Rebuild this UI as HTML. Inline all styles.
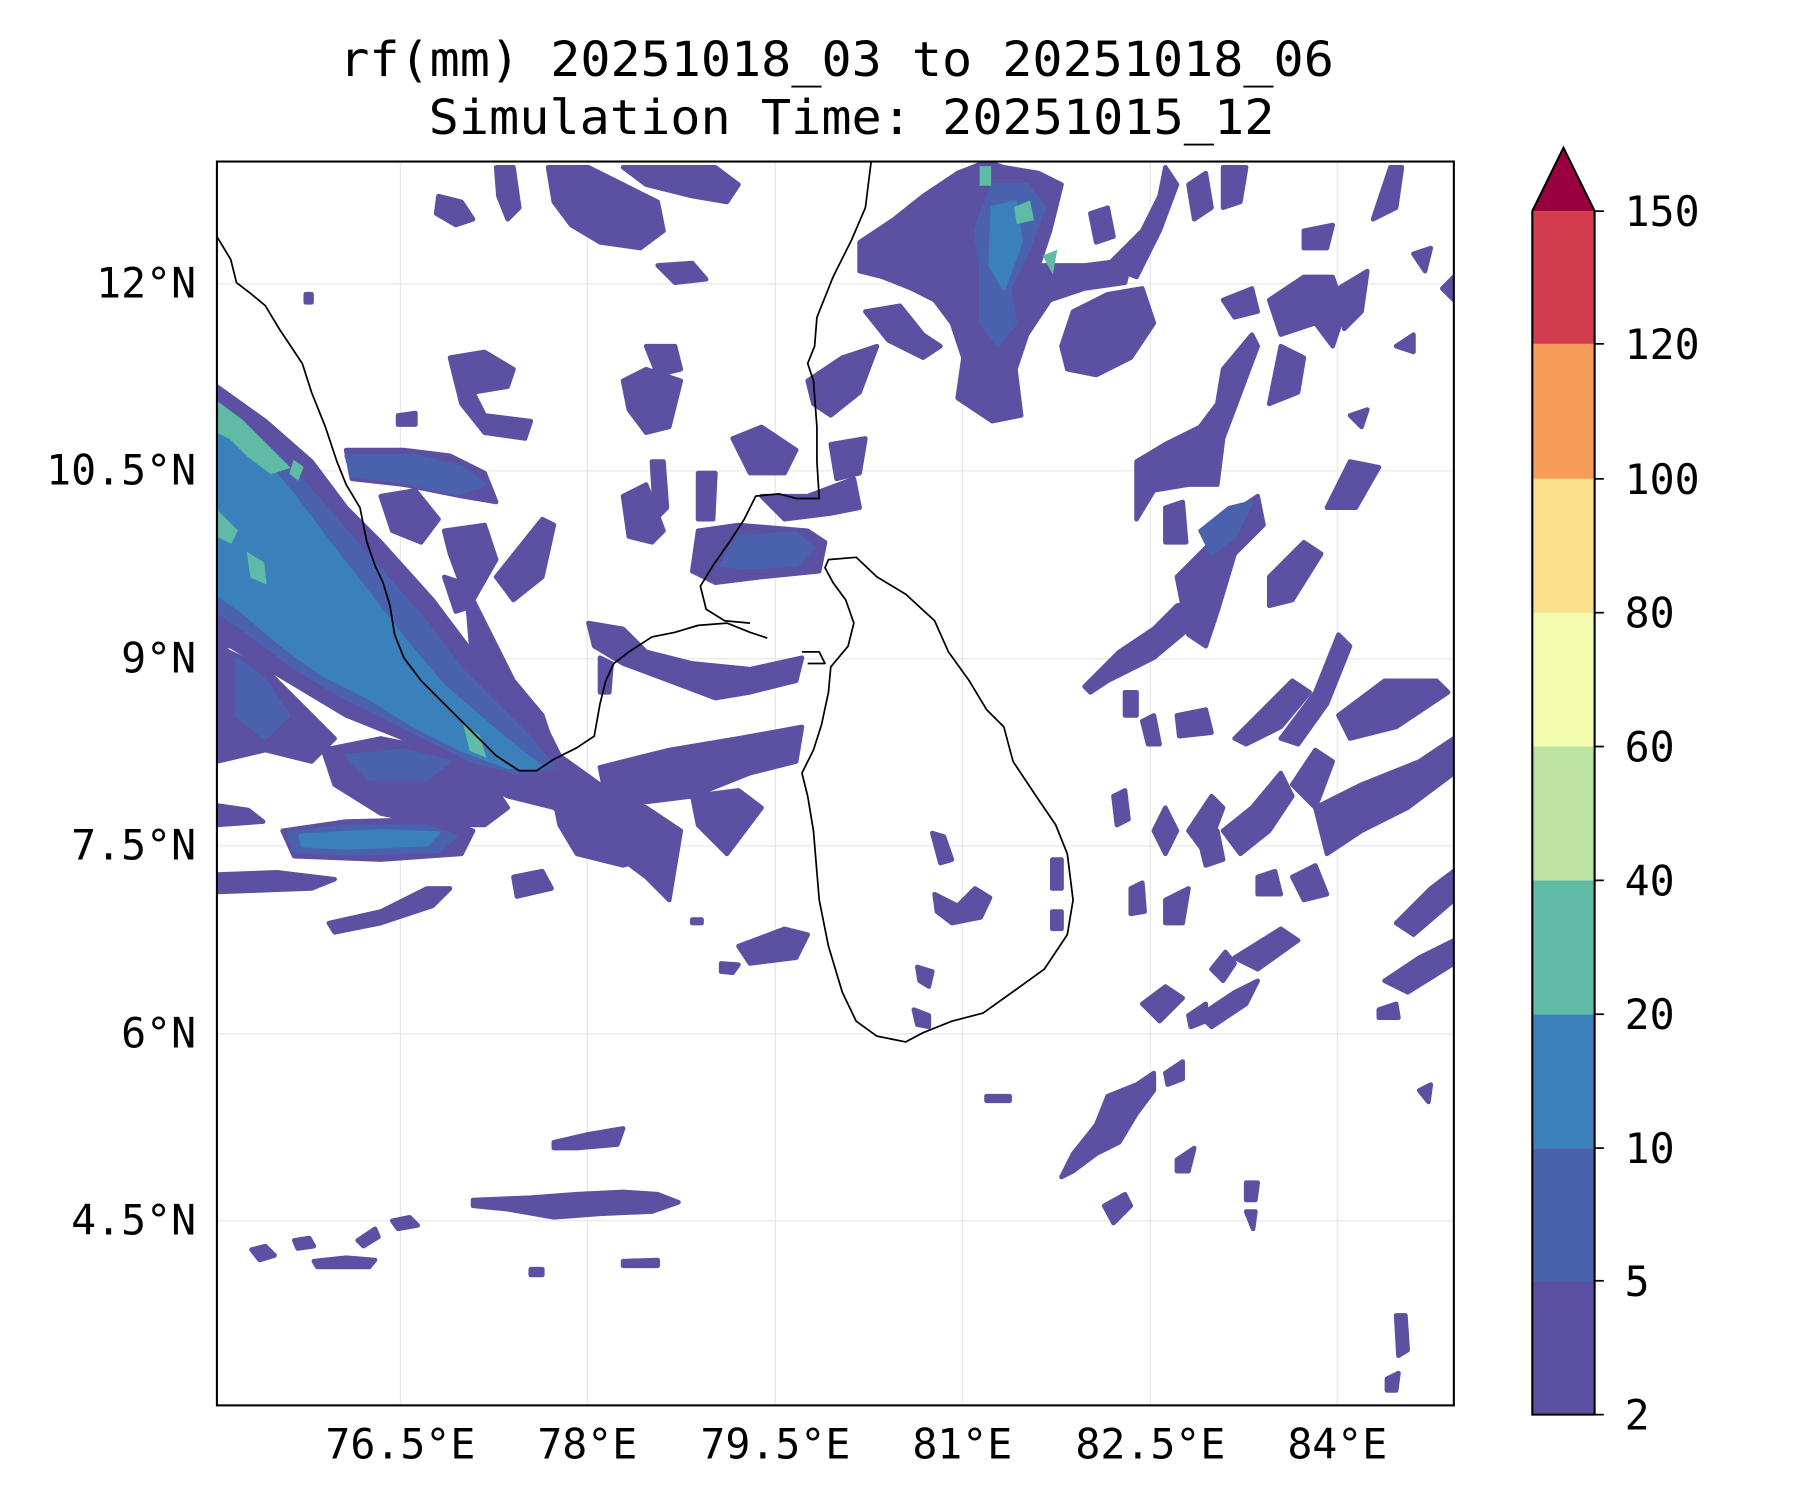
<!DOCTYPE html>
<html><head><meta charset="utf-8"><style>
html,body{margin:0;padding:0;background:#fff;}
svg{display:block}
text{font-family:"DejaVu Sans Mono","Liberation Mono",monospace;fill:#000}
</style></head><body>
<svg width="1800" height="1500" viewBox="0 0 1560 1300" preserveAspectRatio="none" xmlns="http://www.w3.org/2000/svg">
<rect width="1560" height="1300" fill="#fff"/>
<text x="725" y="66" font-size="42" text-anchor="middle" textLength="862" lengthAdjust="spacingAndGlyphs">rf(mm) 20251018_03 to 20251018_06</text>
<text x="738" y="116" font-size="42" text-anchor="middle" textLength="733" lengthAdjust="spacingAndGlyphs">Simulation Time: 20251015_12</text>
<defs><clipPath id="c"><rect x="188" y="140" width="1072" height="1078"/></clipPath></defs>
<g clip-path="url(#c)">
<g stroke="#e6e6e6" stroke-width="1">
<line x1="347" y1="140" x2="347" y2="1218"/><line x1="509" y1="140" x2="509" y2="1218"/><line x1="672" y1="140" x2="672" y2="1218"/><line x1="834" y1="140" x2="834" y2="1218"/><line x1="997" y1="140" x2="997" y2="1218"/><line x1="1159" y1="140" x2="1159" y2="1218"/>
<line x1="188" y1="246" x2="1260" y2="246"/><line x1="188" y1="408" x2="1260" y2="408"/><line x1="188" y1="571" x2="1260" y2="571"/><line x1="188" y1="733" x2="1260" y2="733"/><line x1="188" y1="896" x2="1260" y2="896"/><line x1="188" y1="1058" x2="1260" y2="1058"/>
</g>
<g fill="#5b50a1" stroke="#5b50a1" stroke-width="4" stroke-linejoin="round">
<path d="M188,335 L230,365 L270,400 L300,440 L330,470 L375,520 L405,560 L440,595 L470,625 L485,655 L520,680 L560,700 L590,720 L580,780 L560,760 L520,730 L480,700 L440,690 L400,670 L350,640 L300,620 L250,590 L200,560 L188,560 Z"/>
<path d="M188,560 L230,580 L260,610 L290,640 L270,660 L230,650 L188,660 Z"/>
<path d="M280,650 L330,640 L380,650 L420,670 L440,700 L420,715 L380,715 L330,705 L290,680 Z"/>
<path d="M245,720 L300,712 L380,710 L410,720 L400,740 L330,745 L255,742 Z"/>
<path d="M188,698 L215,702 L228,712 L188,715 Z"/>
<path d="M188,758 L240,756 L290,762 L270,770 L188,773 Z"/>
<path d="M285,800 L330,790 L370,770 L390,770 L375,785 L330,800 L290,808 Z"/>
<path d="M445,760 L470,755 L478,770 L448,777 Z"/>
<path d="M300,390 L350,390 L390,395 L420,410 L430,435 L400,430 L350,420 L305,415 Z"/>
<path d="M330,430 L360,425 L380,450 L365,470 L340,460 Z"/>
<path d="M385,460 L420,455 L430,485 L410,520 L430,560 L445,590 L470,620 L480,650 L455,640 L430,605 L410,580 L405,520 L390,480 Z"/>
<path d="M430,500 L470,450 L480,455 L470,500 L445,520 Z"/>
<path d="M385,500 L400,505 L410,525 L395,530 Z"/>
<path d="M480,690 L520,690 L560,710 L575,740 L540,750 L500,740 L485,715 Z"/>
<path d="M510,540 L540,545 L560,565 L600,575 L650,580 L695,570 L690,590 L650,600 L620,605 L580,590 L540,575 L515,560 Z"/>
<path d="M520,665 L580,650 L640,640 L695,630 L690,660 L650,670 L600,690 L560,695 L525,690 Z"/>
<path d="M600,690 L640,685 L660,700 L630,740 L605,715 Z"/>
<path d="M520,570 L530,575 L528,600 L520,600 Z"/>
<path d="M640,820 L680,805 L700,810 L690,830 L650,835 Z"/>
<path d="M625,835 L640,836 L635,843 L625,842 Z"/>
<path d="M605,460 L640,455 L700,460 L715,470 L710,495 L660,500 L620,505 L600,495 Z"/>
<path d="M660,430 L700,430 L740,415 L745,440 L720,445 L680,450 Z"/>
<path d="M540,430 L560,420 L575,460 L565,470 L545,465 Z"/>
<path d="M565,400 L575,400 L578,440 L568,450 Z"/>
<path d="M605,410 L620,410 L618,450 L605,450 Z"/>
<path d="M635,380 L660,370 L690,390 L680,410 L650,410 Z"/>
<path d="M540,330 L560,320 L590,330 L580,370 L560,375 L545,355 Z"/>
<path d="M560,300 L585,300 L590,320 L570,325 Z"/>
<path d="M390,310 L420,305 L445,320 L440,335 L410,340 L420,360 L460,365 L455,380 L420,375 L400,350 Z"/>
<path d="M380,170 L400,175 L410,190 L395,195 L378,185 Z"/>
<path d="M430,145 L445,145 L450,180 L440,190 L432,170 Z"/>
<path d="M475,145 L510,145 L540,160 L570,175 L575,200 L555,215 L520,210 L495,195 L480,175 Z"/>
<path d="M540,145 L620,145 L640,160 L630,175 L600,170 L560,160 Z"/>
<path d="M570,230 L600,228 L612,242 L585,245 Z"/>
<path d="M700,330 L730,310 L760,300 L745,340 L720,360 L705,350 Z"/>
<path d="M720,385 L750,380 L745,410 L725,415 Z"/>
<path d="M750,270 L780,265 L800,290 L815,300 L800,310 L770,295 Z"/>
<path d="M745,210 L775,190 L800,170 L830,150 L855,140 L870,145 L900,150 L920,160 L910,200 L900,230 L940,230 L980,225 L975,245 L940,250 L910,260 L890,290 L880,320 L885,360 L860,365 L830,345 L835,310 L825,280 L810,260 L790,250 L765,240 L745,235 Z"/>
<path d="M930,270 L960,255 L990,250 L1000,280 L980,310 L950,325 L925,320 L920,300 Z"/>
<path d="M945,185 L960,180 L965,205 L950,210 Z"/>
<path d="M960,230 L990,200 L1005,170 L1010,145 L1020,160 L1005,200 L985,240 Z"/>
<path d="M1030,160 L1045,150 L1050,180 L1035,190 Z"/>
<path d="M1060,145 L1080,145 L1075,175 L1060,180 Z"/>
<path d="M985,400 L1010,385 L1040,370 L1055,350 L1060,320 L1085,290 L1090,300 L1075,340 L1060,380 L1055,420 L1030,420 L1000,425 L985,450 Z"/>
<path d="M940,595 L970,565 L1000,545 L1020,525 L1040,520 L1030,545 L1000,570 L960,590 L945,600 Z"/>
<path d="M1020,500 L1050,470 L1075,440 L1090,430 L1095,455 L1070,480 L1055,530 L1045,560 L1030,550 Z"/>
<path d="M1010,440 L1025,435 L1028,470 L1010,470 Z"/>
<path d="M1100,500 L1130,470 L1145,480 L1120,520 L1100,525 Z"/>
<path d="M1150,440 L1170,400 L1195,405 L1175,440 Z"/>
<path d="M1170,360 L1185,355 L1180,370 Z"/>
<path d="M1060,260 L1085,250 L1090,270 L1070,275 Z"/>
<path d="M1100,260 L1130,240 L1155,240 L1165,270 L1155,300 L1140,280 L1110,290 Z"/>
<path d="M1110,300 L1130,310 L1125,340 L1100,350 Z"/>
<path d="M1160,250 L1185,235 L1180,270 L1165,285 Z"/>
<path d="M1190,190 L1205,145 L1215,145 L1210,180 Z"/>
<path d="M1130,200 L1155,195 L1150,215 L1130,215 Z"/>
<path d="M1210,300 L1225,290 L1225,305 Z"/>
<path d="M1225,220 L1240,215 L1235,235 Z"/>
<path d="M1250,250 L1260,240 L1260,260 Z"/>
<path d="M1020,620 L1045,615 L1050,635 L1022,638 Z"/>
<path d="M1070,640 L1120,590 L1135,600 L1110,630 L1080,645 Z"/>
<path d="M1110,640 L1140,600 L1160,550 L1170,560 L1150,610 L1125,645 Z"/>
<path d="M1160,620 L1200,590 L1245,590 L1255,600 L1210,630 L1170,640 Z"/>
<path d="M1140,700 L1180,680 L1230,660 L1260,640 L1260,670 L1220,700 L1180,720 L1150,740 Z"/>
<path d="M1120,680 L1140,650 L1155,660 L1140,700 Z"/>
<path d="M1060,720 L1085,700 L1110,670 L1120,690 L1100,720 L1075,740 Z"/>
<path d="M1030,720 L1050,690 L1060,700 L1045,740 Z"/>
<path d="M1000,720 L1010,700 L1020,720 L1010,740 Z"/>
<path d="M965,690 L975,685 L978,710 L968,715 Z"/>
<path d="M975,600 L985,600 L985,620 L975,620 Z"/>
<path d="M990,625 L1000,620 L1005,645 L995,645 Z"/>
<path d="M1210,800 L1240,770 L1260,755 L1260,780 L1225,810 Z"/>
<path d="M1200,850 L1230,830 L1260,815 L1260,835 L1220,860 Z"/>
<path d="M1070,830 L1110,805 L1125,815 L1090,840 Z"/>
<path d="M1040,880 L1070,860 L1090,850 L1080,870 L1050,890 Z"/>
<path d="M990,870 L1010,855 L1025,865 L1005,885 Z"/>
<path d="M1010,780 L1030,770 L1025,800 L1010,800 Z"/>
<path d="M1120,760 L1140,750 L1150,775 L1130,780 Z"/>
<path d="M1090,760 L1105,755 L1110,775 L1090,775 Z"/>
<path d="M1040,730 L1055,720 L1060,745 L1045,750 Z"/>
<path d="M980,770 L990,765 L992,790 L980,792 Z"/>
<path d="M1050,840 L1062,825 L1070,835 L1060,850 Z"/>
<path d="M960,950 L985,940 L1000,930 L1000,945 L985,965 L970,990 L950,1000 L930,1015 L920,1020 L930,1000 L950,975 Z"/>
<path d="M957,1045 L975,1035 L980,1045 L965,1060 Z"/>
<path d="M1010,930 L1025,920 L1025,935 L1012,940 Z"/>
<path d="M1020,1005 L1035,995 L1030,1015 L1020,1015 Z"/>
<path d="M1030,880 L1045,870 L1045,885 L1032,890 Z"/>
<path d="M1195,875 L1210,870 L1212,882 L1195,882 Z"/>
<path d="M1230,945 L1240,940 L1238,955 Z"/>
<path d="M1210,1140 L1218,1140 L1220,1170 L1212,1175 Z"/>
<path d="M1202,1195 L1212,1190 L1210,1205 L1202,1205 Z"/>
<path d="M808,722 L818,725 L825,745 L815,748 Z"/>
<path d="M810,775 L830,785 L845,770 L858,778 L850,795 L825,800 L812,790 Z"/>
<path d="M795,838 L808,842 L805,855 L797,850 Z"/>
<path d="M792,875 L805,880 L805,890 L795,888 Z"/>
<path d="M912,745 L920,745 L920,770 L912,770 Z"/>
<path d="M912,790 L920,790 L920,805 L912,805 Z"/>
<path d="M480,990 L510,983 L540,978 L535,992 L500,995 L480,995 Z"/>
<path d="M410,1040 L460,1038 L500,1035 L540,1033 L570,1035 L588,1042 L565,1050 L520,1052 L480,1055 L440,1048 L410,1045 Z"/>
<path d="M272,1093 L300,1090 L325,1092 L320,1098 L275,1098 Z"/>
<path d="M218,1083 L230,1080 L238,1088 L225,1092 Z"/>
<path d="M255,1075 L268,1073 L272,1080 L258,1082 Z"/>
<path d="M340,1058 L355,1055 L362,1062 L345,1065 Z"/>
<path d="M310,1075 L325,1065 L328,1072 L315,1080 Z"/>
<path d="M540,1093 L570,1092 L570,1097 L540,1097 Z"/>
<path d="M460,1100 L470,1100 L470,1105 L460,1105 Z"/>
<path d="M855,950 L875,950 L875,954 L855,954 Z"/>
<path d="M1080,1050 L1088,1050 L1086,1065 Z"/>
<path d="M1080,1025 L1090,1025 L1088,1040 L1080,1040 Z"/>
<path d="M345,360 L360,358 L360,368 L345,368 Z"/>
<path d="M265,255 L270,255 L270,262 L265,262 Z"/>
<path d="M600,797 L608,797 L608,800 L600,800 Z"/>
<path d="M850,330 L870,330 L865,340 Z"/>
</g>
<g fill="#4a62ad" stroke="#4a62ad" stroke-width="3" stroke-linejoin="round">
<path d="M188,350 L230,385 L265,420 L300,460 L335,500 L370,540 L400,580 L430,610 L460,640 L480,665 L450,670 L410,660 L370,640 L330,620 L290,600 L250,575 L210,545 L188,530 Z"/>
<path d="M250,722 L300,716 L370,716 L395,725 L380,738 L300,740 L255,738 Z"/>
<path d="M300,395 L360,395 L400,405 L420,420 L395,428 L350,418 L305,412 Z"/>
<path d="M640,465 L690,462 L705,475 L690,490 L650,492 L625,490 Z"/>
<path d="M860,160 L890,160 L905,180 L890,220 L875,250 L880,280 L865,300 L850,280 L850,230 L845,200 Z"/>
<path d="M205,570 L230,590 L250,620 L230,640 L205,620 Z"/>
<path d="M1040,460 L1065,440 L1085,435 L1070,465 L1050,480 Z"/>
<path d="M300,655 L350,650 L390,660 L370,675 L320,675 Z"/>
</g>
<g fill="#3a80ba" stroke="#3a80ba" stroke-width="3" stroke-linejoin="round">
<path d="M188,365 L225,395 L255,430 L285,470 L320,515 L355,560 L385,595 L420,625 L450,650 L470,665 L440,665 L400,650 L360,630 L320,605 L280,585 L245,560 L210,530 L188,515 Z M210,430 L240,460 L265,500 L240,490 L220,460 Z"/>
<path d="M260,724 L330,720 L380,722 L370,732 L300,735 L262,733 Z"/>
<path d="M860,180 L880,175 L885,210 L870,250 L858,230 Z"/>
</g>
<g fill="#5fbaa6" stroke="#5fbaa6" stroke-width="2">
<path d="M190,350 L210,365 L230,385 L250,405 L235,410 L215,395 L200,380 L190,375 Z"/>
<path d="M190,445 L205,460 L200,470 L190,465 Z"/>
<path d="M215,480 L228,488 L230,505 L218,500 Z"/>
<path d="M255,400 L262,405 L258,415 L252,410 Z"/>
<path d="M403,630 L415,638 L420,655 L408,650 Z"/>
<path d="M880,180 L892,175 L895,190 L882,193 Z"/>
<path d="M850,145 L858,145 L858,160 L850,160 Z"/>
<path d="M905,222 L915,218 L912,235 Z"/>
</g>
</g>
<g fill="none" stroke="#000" stroke-width="1.5" stroke-linejoin="round">
<path d="M188,205 L200,225 L205,245 L218,255 L230,265 L242,285 L262,315 L270,340 L282,370 L292,400 L300,420 L312,440 L318,470 L325,490 L332,505 L338,525 L342,550 L350,570 L365,590 L385,610 L405,630 L430,655 L450,668 L465,668 L480,658 L500,648 L515,638 L520,610 L525,590 L532,575 L545,565 L565,552 L585,548 L605,542 L630,540 L650,548 L665,553"/>
<path d="M650,540 L628,538 L612,528 L607,508 L618,490 L632,470 L645,450 L655,430 L675,428 L690,432 L710,432 L708,400 L708,370 L705,330 L700,315 L706,300 L708,275 L722,240 L738,208 L750,180 L755,140"/>
<path d="M718,485 L742,483 L760,500 L785,515 L810,538 L822,565 L840,590 L855,615 L870,630 L878,660 L898,690 L915,715 L925,740 L930,780 L925,810 L905,840 L880,858 L852,878 L825,885 L800,895 L785,903 L760,898 L742,885 L730,860 L718,820 L710,780 L705,720 L700,690 L695,670 L705,650 L712,628 L718,600 L720,578 L735,560 L740,540 L733,520 L722,505 L715,492 Z"/>
<path d="M695,565 L710,565 L715,575 L700,575"/>
</g>
<rect x="188" y="140" width="1072" height="1078" fill="none" stroke="#000" stroke-width="1.8"/>
<g font-size="36" text-anchor="middle">
<text x="347" y="1264">76.5°E</text><text x="509" y="1264">78°E</text><text x="672" y="1264">79.5°E</text><text x="834" y="1264">81°E</text><text x="997" y="1264">82.5°E</text><text x="1159" y="1264">84°E</text>
</g>
<g font-size="36" text-anchor="end">
<text x="170" y="258">12°N</text><text x="170" y="420">10.5°N</text><text x="170" y="583">9°N</text><text x="170" y="745">7.5°N</text><text x="170" y="908">6°N</text><text x="170" y="1070">4.5°N</text>
</g>
<g stroke="none">
<rect x="1328" y="1110" width="54" height="116" fill="#5b50a1"/>
<rect x="1328" y="995" width="54" height="116" fill="#4a62ad"/>
<rect x="1328" y="879" width="54" height="116" fill="#3a80ba"/>
<rect x="1328" y="763" width="54" height="116" fill="#5fbaa6"/>
<rect x="1328" y="647" width="54" height="116" fill="#bde3a0"/>
<rect x="1328" y="531" width="54" height="116" fill="#f2fbae"/>
<rect x="1328" y="415" width="54" height="116" fill="#fbe08d"/>
<rect x="1328" y="298" width="54" height="117" fill="#f89c5a"/>
<rect x="1328" y="183" width="54" height="115" fill="#d23c4e"/>
</g>
<path d="M1328,183 L1355,128 L1382,183 Z" fill="#9a0040"/>
<path d="M1328,1226 L1328,183 L1355,128 L1382,183 L1382,1226 Z" fill="none" stroke="#000" stroke-width="1.8"/>
<g stroke="#000" stroke-width="1.5">
<line x1="1382" y1="1226" x2="1390" y2="1226"/><line x1="1382" y1="1110" x2="1390" y2="1110"/><line x1="1382" y1="995" x2="1390" y2="995"/><line x1="1382" y1="879" x2="1390" y2="879"/><line x1="1382" y1="763" x2="1390" y2="763"/><line x1="1382" y1="647" x2="1390" y2="647"/><line x1="1382" y1="531" x2="1390" y2="531"/><line x1="1382" y1="415" x2="1390" y2="415"/><line x1="1382" y1="298" x2="1390" y2="298"/><line x1="1382" y1="183" x2="1390" y2="183"/>
</g>
<g font-size="36">
<text x="1408" y="1239">2</text><text x="1408" y="1123">5</text><text x="1408" y="1008">10</text><text x="1408" y="892">20</text><text x="1408" y="776">40</text><text x="1408" y="660">60</text><text x="1408" y="544">80</text><text x="1408" y="428">100</text><text x="1408" y="311">120</text><text x="1408" y="196">150</text>
</g>
</svg>
</body></html>
